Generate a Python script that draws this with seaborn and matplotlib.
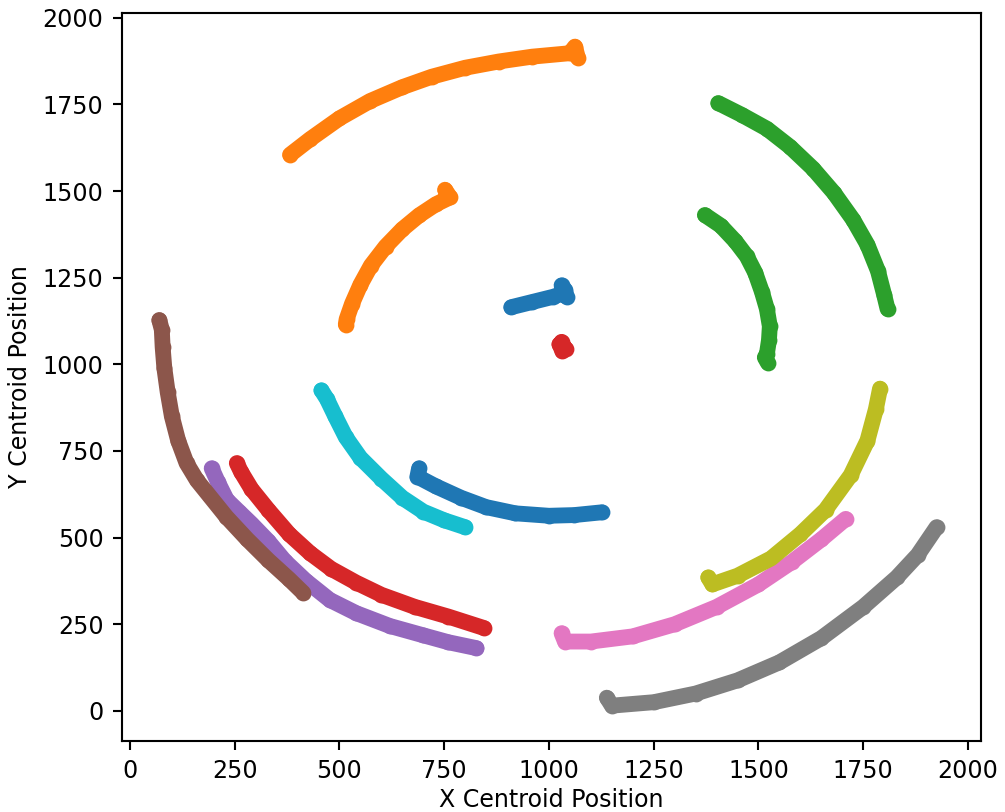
import numpy as np
import pandas as pd
import matplotlib
matplotlib.use("Agg")
import matplotlib.pyplot as plt
import seaborn as sns

# Track points (x, y centroid positions)
t00_x = [910, 960, 1010, 1035, 1030, 1038, 1042]
t00_y = [1165, 1180, 1195, 1205, 1228, 1215, 1195]
t01_x = [382, 430, 500, 573, 650, 720, 800, 880, 960, 1050, 1062, 1069, 1058]
t01_y = [1605, 1650, 1710, 1760, 1800, 1830, 1856, 1874, 1888, 1898, 1917, 1885, 1900]
t02_x = [1404, 1460, 1520, 1575, 1630, 1680, 1726, 1760, 1785, 1800, 1808]
t02_y = [1754, 1720, 1680, 1628, 1565, 1495, 1417, 1345, 1270, 1200, 1160]
t03_x = [1030, 1035, 1032, 1025, 1040, 1034]
t03_y = [1065, 1050, 1038, 1058, 1045, 1052]
t04_x = [195, 210, 231, 260, 290, 330, 370, 420, 477, 540, 620, 700, 760, 827]
t04_y = [700, 660, 609, 575, 540, 490, 432, 375, 320, 282, 245, 218, 198, 181]
t05_x = [70, 76, 78, 82, 90, 100, 115, 135, 160, 190, 230, 280, 330, 380, 414]
t05_y = [1128, 1100, 1050, 990, 920, 850, 780, 715, 665, 620, 560, 495, 435, 380, 340]
t06_x = [1030, 1038, 1100, 1200, 1300, 1400, 1500, 1580, 1650, 1708]
t06_y = [224, 200, 200, 215, 250, 300, 365, 430, 495, 554]
t07_x = [1138, 1150, 1250, 1350, 1450, 1550, 1650, 1750, 1830, 1880, 1925]
t07_y = [38, 15, 25, 50, 88, 140, 210, 300, 385, 450, 530]
t08_x = [1380, 1390, 1450, 1530, 1600, 1660, 1720, 1760, 1780, 1790]
t08_y = [385, 365, 390, 440, 510, 580, 680, 780, 870, 930]
t09_x = [457, 470, 490, 515, 550, 600, 650, 700, 750, 800]
t09_y = [925, 900, 850, 790, 730, 670, 615, 575, 550, 530]
t10_x = [690, 686, 730, 790, 850, 920, 1000, 1060, 1126]
t10_y = [700, 676, 648, 615, 588, 570, 563, 565, 573]
t11_x = [752, 764, 730, 690, 650, 610, 575, 550, 530, 517, 515]
t11_y = [1504, 1482, 1462, 1430, 1390, 1340, 1285, 1230, 1175, 1130, 1115]
t12_x = [1372, 1410, 1445, 1472, 1492, 1508, 1520, 1527, 1525, 1520, 1515, 1522]
t12_y = [1431, 1400, 1355, 1312, 1265, 1210, 1160, 1110, 1070, 1030, 1020, 1005]
t13_x = [255, 265, 290, 330, 380, 430, 480, 540, 600, 680, 760, 845]
t13_y = [715, 690, 640, 580, 510, 455, 410, 370, 335, 300, 272, 239]

tracks_x = [t00_x, t01_x, t02_x, t03_x, t04_x, t05_x, t06_x,
            t07_x, t08_x, t09_x, t10_x, t11_x, t12_x, t13_x]
tracks_y = [t00_y, t01_y, t02_y, t03_y, t04_y, t05_y, t06_y,
            t07_y, t08_y, t09_y, t10_y, t11_y, t12_y, t13_y]

rows = []
for i, (xs, ys) in enumerate(zip(tracks_x, tracks_y)):
    for k, (x, y) in enumerate(zip(xs, ys)):
        rows.append({"track": i, "order": k, "x": x, "y": y})
df = pd.DataFrame(rows)

tab10 = sns.color_palette("tab10", 10)
palette = {i: tab10[i % 10] for i in range(len(tracks_x))}

plt.rcParams["font.size"] = 9
plt.rcParams["font.family"] = ["DejaVu Sans"]

fig = plt.figure(figsize=(1005 / 190, 812 / 190), dpi=190)
ax = fig.add_axes([122 / 1005, 1 - 741 / 812, (981 - 122) / 1005, (741 - 13) / 812])

for i in range(len(tracks_x)):
    sub = df[df["track"] == i]
    sns.lineplot(data=sub, x="x", y="y", sort=False, estimator=None,
                 color=palette[i], linewidth=6.0, solid_capstyle="round",
                 solid_joinstyle="round", ax=ax, legend=False)
    sns.scatterplot(data=sub, x="x", y="y", color=palette[i], s=36,
                    linewidth=0, ax=ax, legend=False)

ax.set_xlim(-19, 2031)
ax.set_ylim(-87, 2014)
ax.set_xticks([0, 250, 500, 750, 1000, 1250, 1500, 1750, 2000])
ax.set_yticks([0, 250, 500, 750, 1000, 1250, 1500, 1750, 2000])
ax.set_xlabel("X Centroid Position", labelpad=1.8)
ax.set_ylabel("Y Centroid Position")

fig.savefig("out.png", dpi=190)
